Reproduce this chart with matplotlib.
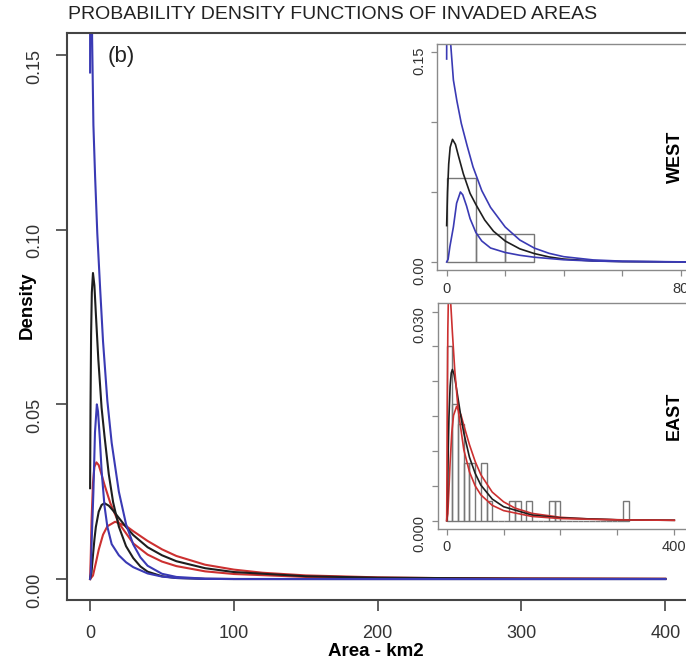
import matplotlib.pyplot as plt

plt.rcParams['font.family'] = ['Liberation Sans', 'DejaVu Sans']

# WEST fitted curves (area km2, density)
blue1_x = [0, 0.2, 0.5, 1.0, 1.4, 2.3, 3.5, 5, 7, 9, 12, 15, 20, 25, 30, 35, 40, 50, 60, 80, 100, 200, 300, 400]
blue1_y = [0.145, 0.35, 0.30, 0.19, 0.155, 0.13, 0.115, 0.099, 0.083, 0.068, 0.051, 0.039, 0.025, 0.0157, 0.0099,
           0.0062, 0.0038, 0.0015, 0.0006, 0.0001, 0.00002, 0, 0, 0]
black1_x = [0, 0.3, 0.7, 1.2, 2.0, 3, 4, 5.7, 8, 10, 13, 16, 20, 25, 30, 35, 40, 50, 60, 80, 100, 200, 300, 400]
black1_y = [0.026, 0.05, 0.07, 0.082, 0.0876, 0.084, 0.076, 0.063, 0.049, 0.041, 0.030, 0.022, 0.015, 0.0094,
            0.006, 0.0036, 0.0021, 0.0008, 0.0003, 0.00005, 0, 0, 0, 0]
blue2_x = [0, 0.5, 1.1, 2.3, 3.4, 4.7, 5.5, 6.8, 8, 10, 12, 15, 20, 25, 30, 40, 50, 60, 80, 100, 200, 300, 400]
blue2_y = [0, 0.002, 0.011, 0.025, 0.042, 0.050, 0.048, 0.040, 0.031, 0.021, 0.015, 0.010, 0.0068, 0.0048,
           0.0034, 0.0016, 0.0007, 0.0003, 0.00005, 0, 0, 0, 0]

# EAST fitted curves
red1_x = [0, 0.5, 1, 2, 3, 4.4, 6, 8, 10, 14, 20, 30, 40, 50, 60, 80, 100, 150, 200, 300, 400]
red1_y = [0, 0.0073, 0.0166, 0.0275, 0.0321, 0.0334, 0.0326, 0.0299, 0.027, 0.0218, 0.016, 0.0102, 0.007,
          0.005, 0.0037, 0.0022, 0.00144, 0.0006, 0.0003, 0.00011, 0.00005]
black2_x = [0, 1, 2, 3, 4, 6, 8, 10, 13, 16, 20, 25, 30, 40, 50, 60, 80, 100, 150, 200, 300, 400]
black2_y = [0, 0.002, 0.0068, 0.0113, 0.0149, 0.0193, 0.0212, 0.0217, 0.021, 0.0196, 0.0175, 0.0149, 0.0126,
            0.0091, 0.0068, 0.0051, 0.0031, 0.002, 0.0008, 0.00039, 0.00012, 0.00005]
red2_x = [0, 2, 4, 6, 9, 12, 17.4, 25, 30, 40, 50, 60, 80, 100, 120, 150, 200, 250, 300, 400]
red2_y = [0, 0.001, 0.0046, 0.0084, 0.0127, 0.0151, 0.0164, 0.0152, 0.0137, 0.0109, 0.0085, 0.0066, 0.0041,
          0.0027, 0.0018, 0.00104, 0.00048, 0.00024, 0.00013, 0.00005]

# observed histograms (bin width 10 km2, density scale)
west_bins = [0, 10, 20]
west_density = [0.06, 0.02, 0.02]
east_bins = list(range(0, 320, 10))
east_density = [0.025, 0.0167, 0.0139, 0.0083, 0.0083, 0, 0.0083, 0.0028, 0, 0, 0, 0.0028, 0.0028, 0, 0.0028,
                0, 0, 0, 0.0028, 0.0028, 0, 0, 0, 0, 0, 0, 0, 0, 0, 0, 0, 0.0028]

BLUE = '#3a3ab4'
BLACK = '#1e1e1e'
RED = '#cc3030'

fig = plt.figure(figsize=(6.86, 6.66), dpi=100)

# main panel
ax = fig.add_axes([0.09767, 0.0991, 0.90525, 0.85135])
ax.plot(red2_x, red2_y, color=RED, lw=1.5)
ax.plot(red1_x, red1_y, color=RED, lw=1.5)
ax.plot(black2_x, black2_y, color=BLACK, lw=1.5)
ax.plot(black1_x, black1_y, color=BLACK, lw=1.5)
ax.plot(blue2_x, blue2_y, color=BLUE, lw=1.5)
ax.plot(blue1_x, blue1_y, color=BLUE, lw=1.5)
ax.set_xlim(-16.06, 415.8)
ax.set_ylim(-0.006, 0.1563)
ax.set_xticks([0, 100, 200, 300, 400])
ax.set_yticks([0, 0.05, 0.10, 0.15])
ax.set_yticklabels(['0.00', '0.05', '0.10', '0.15'])
ax.tick_params(length=8, width=1.2, color='#444444', labelsize=13, labelcolor='#333333')
ax.tick_params(axis='x', pad=10)
ax.tick_params(axis='y', pad=9, labelrotation=90)
for s in ax.spines.values():
    s.set_color('#444444')
    s.set_linewidth(1.5)
ax.text(0.066, 0.958, '(b)', transform=ax.transAxes, fontsize=16, ha='left', va='center', color='#222222')

fig.text(68 / 686, 1 - 14.5 / 666, 'PROBABILITY DENSITY FUNCTIONS OF INVADED AREAS', fontsize=14,
         ha='left', va='center', color='#222222')
fig.text(376 / 686, 1 - 652 / 666, 'Area - km2', fontsize=13.5, fontweight='bold', ha='center', va='center')
fig.text(27 / 686, 1 - 305 / 666, 'Density', fontsize=13.5, fontweight='bold', rotation=90,
         ha='center', va='center')


def style_inset(a):
    for s in a.spines.values():
        s.set_color('#8a8a8a')
        s.set_linewidth(1.0)
    a.tick_params(length=4, width=0.9, color='#8a8a8a', labelsize=10.5, labelcolor='#333333')
    a.tick_params(axis='x', pad=4)
    a.tick_params(axis='y', pad=4, labelrotation=90)


# WEST inset
aw = fig.add_axes([0.63703, 0.59399, 0.37026, 0.34054])
aw.bar(west_bins, west_density, width=10, align='edge', fill=False, edgecolor='#777777', linewidth=1.0)
aw.plot(black1_x, black1_y, color=BLACK, lw=1.2)
aw.plot(blue2_x, blue2_y, color=BLUE, lw=1.2)
aw.plot(blue1_x, blue1_y, color=BLUE, lw=1.2)
aw.set_xlim(-3.3, 83.5)
aw.set_ylim(-0.006, 0.156)
aw.set_xticks([0, 20, 40, 60, 80])
aw.set_xticklabels(['0', '', '', '', '80'])
aw.set_yticks([0, 0.05, 0.10, 0.15])
aw.set_yticklabels(['0.00', '', '', '0.15'])
style_inset(aw)
aw.text(0.938, 0.5, 'WEST', transform=aw.transAxes, rotation=90, fontsize=13, fontweight='bold',
        ha='center', va='center')

# EAST inset
ae = fig.add_axes([0.6379, 0.2057, 0.36793, 0.3389])
ae.bar(east_bins, east_density, width=10, align='edge', fill=False, edgecolor='#777777', linewidth=1.0)
ae.plot(red2_x, red2_y, color=RED, lw=1.2)
ae.plot(black2_x, black2_y, color=BLACK, lw=1.2)
ae.plot(red1_x, red1_y, color=RED, lw=1.2)
ae.set_xlim(-16, 427.6)
ae.set_ylim(-0.0012, 0.0312)
ae.set_xticks([0, 100, 200, 300, 400])
ae.set_xticklabels(['0', '', '', '', '400'])
ae.set_yticks([0, 0.005, 0.010, 0.015, 0.020, 0.025, 0.030])
ae.set_yticklabels(['0.000', '', '', '', '', '', '0.030'])
style_inset(ae)
ae.text(0.938, 0.5, 'EAST', transform=ae.transAxes, rotation=90, fontsize=13, fontweight='bold',
        ha='center', va='center')

fig.savefig('out.png', dpi=100)
